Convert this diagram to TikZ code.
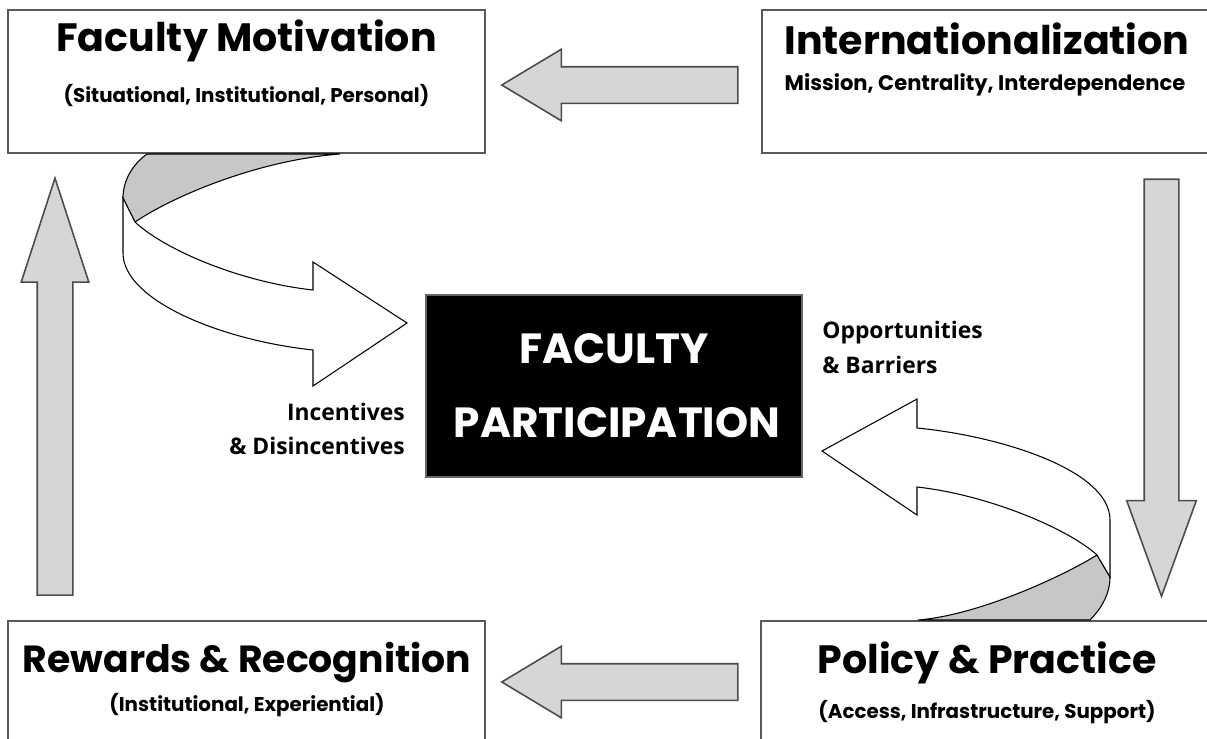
\documentclass[tikz,border=0pt]{standalone}
\usepackage{fontspec}
\setmainfont{Open Sans}
\newfontfamily\headfont{Poppins}
\usetikzlibrary{shapes.arrows}

\begin{document}
\begin{tikzpicture}[x=0.2mm, y=-0.2mm,
  box/.style={draw=black!65, line width=0.8pt, fill=white, inner sep=0pt,
              minimum width=95.4mm, minimum height=28.6mm},
  title/.style={anchor=base, inner sep=0pt,
                font=\headfont\bfseries\fontsize{22.5}{26}\selectfont},
  sub/.style={anchor=base, inner sep=0pt,
              font=\headfont\bfseries\fontsize{11.3}{13}\selectfont},
  core/.style={fill=black, draw=black!60, line width=0.8pt,
               minimum width=75.2mm, minimum height=36.4mm},
  coretxt/.style={anchor=base, inner sep=0pt, text=white,
                  font=\headfont\bfseries\fontsize{24}{28}\selectfont},
  lbl/.style={inner sep=0pt, font=\bfseries\fontsize{13}{15}\selectfont},
  blk/.style={single arrow, draw=black!70, line width=0.9pt, fill=black!16,
              inner xsep=0pt, single arrow head indent=0pt},
  front/.style={draw=black, line width=0.6pt, fill=white},
  back/.style={draw=black, line width=0.6pt, fill=black!22},
]
\useasboundingbox (0,0) rectangle (1207,738);
\clip (0,0) rectangle (1207,738);

% the four corner boxes
\node[box] (fm)   at (246.5,81.5) {};
\node[box, minimum width=90.6mm] (intl) at (988.5,81.5) {};
\node[box, minimum height=27.8mm] (rr) at (246.5,690.5) {};
\node[box, minimum width=90.8mm, minimum height=27.8mm] (pp) at (988,690.5) {};

\node[title] (fmT)   at (246.5,51) {Faculty Motivation};
\node[sub]   (fmS)   at (246.5,102) {(Situational, Institutional, Personal)};
\node[title] (intlT) at (987,54) {Internationalization};
\node[sub, font=\headfont\bfseries\fontsize{12}{14}\selectfont]
             (intlS) at (985,90) {Mission, Centrality, Interdependence};
\node[title, font=\headfont\bfseries\fontsize{21.5}{26}\selectfont]
             (rrT)   at (247,672) {Rewards \& Recognition};
\node[sub]   (rrS)   at (247,711) {(Institutional, Experiential)};
\node[title] (ppT)   at (987,673) {Policy \& Practice};
\node[sub]   (ppS)   at (987,718) {(Access, Infrastructure, Support)};

% centre
\node[core] (fp) at (614,386) {};
\node[coretxt] (fpA) at (614,363) {FACULTY};
\node[coretxt] (fpB) at (617,437) {PARTICIPATION};

% block arrows round the cycle
\node[blk, rotate=180, minimum height=47.2mm, inner ysep=3.5mm,
      single arrow head extend=3.5mm, single arrow tip angle=62] (aTop) at (635,85) {};
\node[blk, rotate=180, minimum height=47.2mm, inner ysep=3.5mm,
      single arrow head extend=3.5mm, single arrow tip angle=62] (aBot) at (635,682) {};
\node[blk, rotate=270, minimum height=83.4mm, inner ysep=3.3mm,
      single arrow head extend=3.5mm, single arrow tip angle=40] (aDown) at (1161.5,364) {};
\node[blk, rotate=90, minimum height=83.4mm, inner ysep=3.4mm,
      single arrow head extend=3.2mm, single arrow tip angle=36] (aUp) at (55,414) {};

% twisted arrow from the motivation box
\draw[back] (147,154) .. controls (133,164) and (123,180) .. (123,198)
  -- (135,222) .. controls (175,195) and (260,160) .. (340,154) -- cycle;
\draw[front] (123,198) -- (123,253) .. controls (123,300) and (220,340) .. (313,350)
  -- (313,386) -- (407,323) -- (313,262) -- (313,290)
  .. controls (240,282) and (165,250) .. (135,222) -- cycle;

% twisted arrow from the policy box
\draw[back] (1090,620) .. controls (1100,610) and (1110,595) .. (1110,577)
  -- (1097,555) .. controls (1065,575) and (980,615) .. (918,620) -- cycle;
\draw[front] (1110,577) -- (1110,520) .. controls (1110,470) and (1000,436) .. (917,428)
  -- (917,399) -- (822,451) -- (917,515) -- (917,487)
  .. controls (990,495) and (1070,530) .. (1097,555) -- cycle;

% side labels
\node[lbl, anchor=base east] (incA) at (405,420) {Incentives};
\node[lbl, anchor=base east] (incB) at (405,454) {\& Disincentives};
\node[lbl, anchor=base west] (oppA) at (822,338) {Opportunities};
\node[lbl, anchor=base west] (oppB) at (822,373) {\& Barriers};
\end{tikzpicture}
\end{document}
